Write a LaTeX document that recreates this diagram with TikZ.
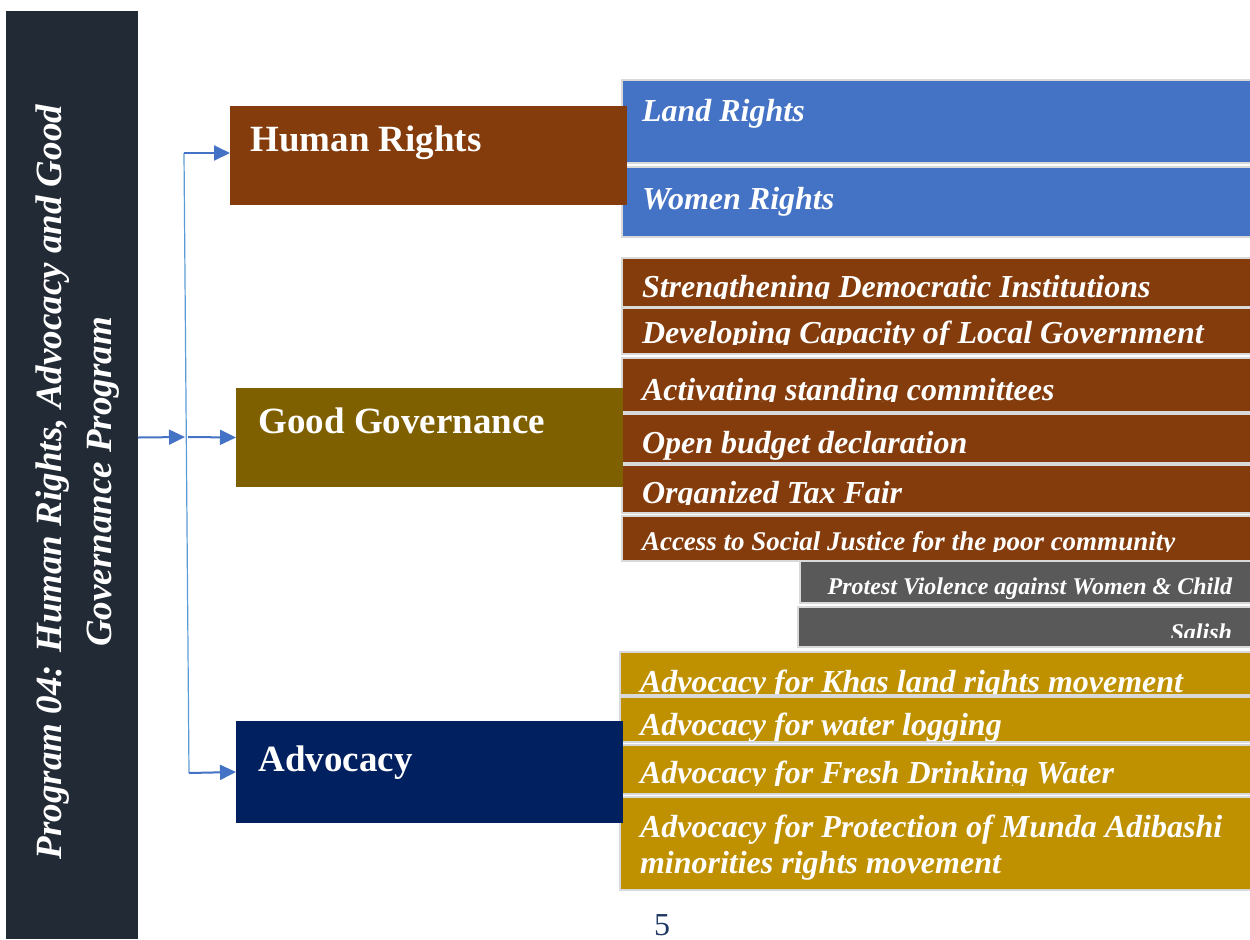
\documentclass[tikz,border=0pt]{standalone}
\usepackage{fontspec}
\setmainfont{Liberation Serif}
\usetikzlibrary{arrows.meta,positioning}

\definecolor{slate}{HTML}{222A35}
\definecolor{rust}{HTML}{843C0C}
\definecolor{olive}{HTML}{7F6000}
\definecolor{navy}{HTML}{002060}
\definecolor{itemblue}{HTML}{4472C4}
\definecolor{itemgold}{HTML}{BF9000}
\definecolor{itemgray}{HTML}{595959}
\definecolor{rim}{HTML}{D9D9D9}
\definecolor{linkblue}{HTML}{4472C4}
\definecolor{spineblue}{HTML}{5B9BD5}
\definecolor{pagenavy}{HTML}{1F3864}

\begin{document}
\begin{tikzpicture}
	[x=0.5pt,y=-0.5pt,>={Triangle[length=8pt,width=7.5pt]},
		box/.style={rectangle,fill=#1,anchor=north west,inner sep=0pt,outer sep=0pt},
		item/.style={box=#1,draw=rim,line width=1.2pt},
		head text/.style={font=\fontsize{18.5}{22}\selectfont\bfseries,text=white,anchor=base west,inner sep=0pt},
		item font/.style={font=\fontsize{16}{18}\selectfont\bfseries\itshape,text=white,inner sep=0pt,align=left,minimum width=0pt,minimum height=0pt},
		cut/.style n args={4}{path picture={
			\clip (path picture bounding box.north west) rectangle ([yshift=-#4]path picture bounding box.north east);
			\node[item font,anchor=base west] (#1) at ([shift={(10pt,-#3)}]path picture bounding box.north west) {#2};}},
		rcut/.style n args={4}{path picture={
			\clip (path picture bounding box.north west) rectangle ([yshift=-#4]path picture bounding box.north east);
			\node[item font,anchor=base east] (#1) at ([shift={(-10.5pt,-#3)}]path picture bounding box.north east) {#2};}},
		link/.style={->,draw=linkblue,line width=1pt},
		spine/.style={draw=spineblue,line width=0.6pt}]

	\useasboundingbox (0,0) rectangle (1250,939);

	% human rights
	\node[item=itemblue,minimum width=315.5pt,minimum height=41.5pt,cut={landtext}{Land Rights}{20.5pt}{41.5pt}] (land) at (622,80) {};
	\node[item=itemblue,minimum width=315.5pt,minimum height=35pt,below=2pt of land,cut={womentext}{Women Rights}{21pt}{35pt}] (women) {};

	% good governance
	\node[item=rust,minimum width=315.5pt,minimum height=24.5pt,cut={sditext}{Strengthening Democratic Institutions}{19.5pt}{20pt}] (sdi) at (622,258) {};
	\node[item=rust,minimum width=315.5pt,minimum height=23pt,below=0.5pt of sdi,cut={dcltext}{Developing Capacity of Local Government}{17.5pt}{18pt}] (dcl) {};
	\node[item=rust,minimum width=315.5pt,minimum height=27pt,below=2pt of dcl,cut={asctext}{Activating standing committees}{21pt}{21.5pt}] (asc) {};
	\node[item=rust,minimum width=315.5pt,minimum height=24.5pt,below=1pt of asc,cut={obdtext}{Open budget declaration}{19.5pt}{24.5pt}] (obd) {};
	\node[item=rust,minimum width=315.5pt,minimum height=24pt,below=1pt of obd,cut={otftext}{Organized Tax Fair}{19pt}{19.5pt}] (otf) {};
	\node[item=rust,minimum width=315.5pt,minimum height=22.5pt,below=1.5pt of otf,cut={asjtext}{{\fontsize{13.5}{16}\selectfont Access to Social Justice for the poor community}}{17pt}{17.5pt}] (asj) {};
	\node[item=itemgray,minimum width=226.5pt,minimum height=21pt,rcut={pvwtext}{{\fontsize{12}{14}\selectfont Protest Violence against Women \& Child}}{16.5pt}{21pt}] (pvw) at (800,561) {};
	\node[item=itemgray,minimum width=227.5pt,minimum height=20pt,rcut={saltext}{{\fontsize{12}{14}\selectfont Salish}}{16.5pt}{15pt}] (sal) at (798,607) {};

	% advocacy
	\node[item=itemgold,minimum width=316.5pt,minimum height=21.5pt,cut={khastext}{Advocacy for Khas land rights movement}{20pt}{21.5pt}] (khas) at (620,652) {};
	\node[item=itemgold,minimum width=316.5pt,minimum height=22.5pt,below=1pt of khas,cut={wlogtext}{Advocacy for water logging}{19pt}{22.5pt}] (wlog) {};
	\node[item=itemgold,minimum width=316.5pt,minimum height=24.5pt,below=1.5pt of wlog,cut={fdwtext}{Advocacy for Fresh Drinking Water}{19pt}{20pt}] (fdw) {};
	\node[item=itemgold,minimum width=316.5pt,minimum height=46.5pt,below=1.5pt of fdw,cut={mundatext}{Advocacy for Protection of Munda Adibashi\\minorities rights movement}{38pt}{46.5pt}] (munda) {};

	% main branches
	\node[box=rust,minimum width=198.5pt,minimum height=49.5pt] (hr) at (230,106) {};
	\node[head text] (hrtext) at ([shift={(20,45)}]hr.north west) {Human Rights};
	\node[box=olive,minimum width=193.5pt,minimum height=49.5pt] (gg) at (236,388) {};
	\node[head text] (ggtext) at ([shift={(22,45)}]gg.north west) {Good Governance};
	\node[box=navy,minimum width=193.5pt,minimum height=51pt] (adv) at (236,721) {};
	\node[head text] (advtext) at ([shift={(22,50)}]adv.north west) {Advocacy};

	% program bar
	\node[box=slate,minimum width=66pt,minimum height=464pt] (bar) at (6,11) {};
	\node[rotate=90,align=center,text=white,font=\fontsize{18.5}{25}\selectfont\bfseries\itshape] (bartext) at ([shift={(3pt,-3.5pt)}]bar.center) {Program 04: Human Rights, Advocacy and Good\\Governance Program};

	\coordinate (top) at (184,153);
	\coordinate (mid) at (185,437);
	\coordinate (low) at (189,773);

	\draw[spine] (top) -- (low);
	\draw[link] (bar.east |- gg.west) -- (mid);
	\draw[link] ([xshift=1.5pt]mid) -- (gg.west);
	\draw[link] (top) -- (top -| hr.west);
	\draw[link] (low) -- (adv.west);

	\node[text=pagenavy,font=\fontsize{16}{18}\selectfont,anchor=base,inner sep=0pt] (pagenum) at (662,935) {5};

\end{tikzpicture}
\end{document}
